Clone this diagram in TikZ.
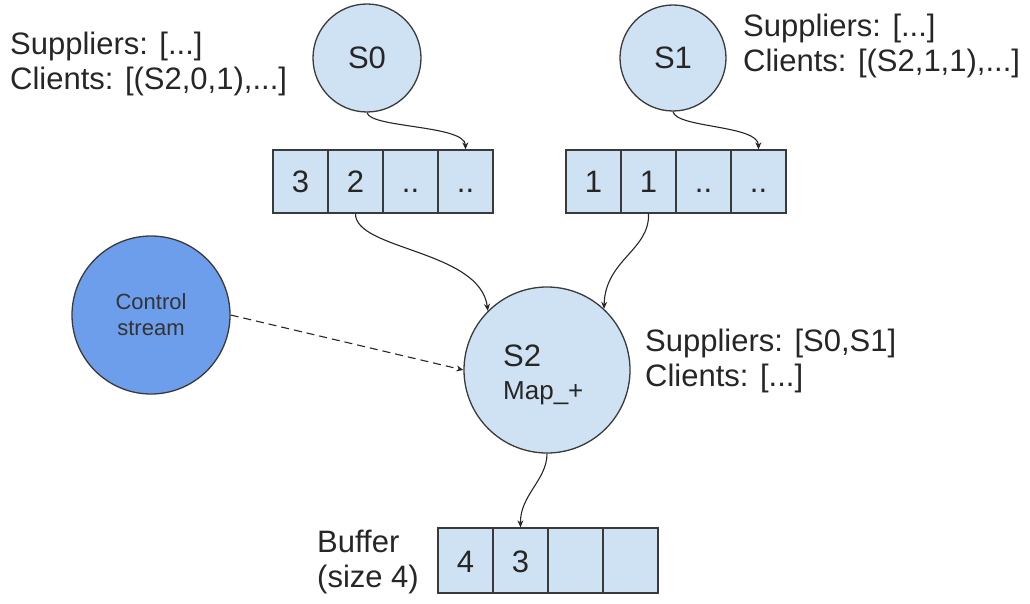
\documentclass[tikz,border=0pt]{standalone}
\usepackage{fontspec}
\setmainfont{Liberation Sans}
\usetikzlibrary{arrows.meta}
\definecolor{lightblue}{HTML}{CFE2F3}
\definecolor{ctrlblue}{HTML}{6D9EEB}
\definecolor{edge}{HTML}{3A3A3A}
\begin{document}
\begin{tikzpicture}[x=1pt,y=-1pt,
  bigfont/.style={font=\fontsize{31}{35}\selectfont},
  stream/.style={circle,draw=edge,line width=1.3pt,fill=lightblue,inner sep=0pt,bigfont,text=black!85},
  cell/.style={rectangle,draw=edge,line width=1.3pt,fill=lightblue,minimum width=55pt,minimum height=63pt,inner sep=0pt,text height=23pt,text depth=0pt,bigfont,text=black!85},
  label/.style={align=left,inner sep=0pt,anchor=west,bigfont,text=black!85},
  conn/.style={draw=black!85,line width=1.1pt,-{Stealth[length=7pt,width=6pt]}},
  dashconn/.style={conn,dash pattern=on 8pt off 5pt}
]
\useasboundingbox (0,0) rectangle (1030,604);

% source streams
\node[stream,minimum size=108pt] (s0) at (367,58) {S0};
\node[stream,minimum size=106pt] (s1) at (673,58) {S1};

% labels
\node[label] (l0) at (10,64) {Suppliers: [...]\\Clients: [(S2,0,1),...]};
\node[label] (l1) at (743,46) {Suppliers: [...]\\Clients: [(S2,1,1),...]};
\node[label] (l2) at (645,361) {Suppliers: [S0,S1]\\Clients: [...]};
\node[label] (lb) at (317,562) {Buffer\\(size 4)};

% left buffer
\node[cell] (b0a) at (300.5,181.5) {3};
\node[cell] (b0b) at (355.5,181.5) {2};
\node[cell] (b0c) at (410.5,181.5) {..};
\node[cell] (b0d) at (465.5,181.5) {..};

% right buffer
\node[cell] (b1a) at (593.5,181.5) {1};
\node[cell] (b1b) at (648.5,181.5) {1};
\node[cell] (b1c) at (703.5,181.5) {..};
\node[cell] (b1d) at (758.5,181.5) {..};

% control stream
\node[circle,draw=edge,line width=1.3pt,fill=ctrlblue,minimum size=158pt,inner sep=0pt,align=center,
      font=\fontsize{22}{26}\selectfont,text=black!80] (cs) at (151,315) {Control\\stream};

% S2
\node[stream,minimum size=166pt] (s2) at (547,370) {};
\node[align=left,inner sep=0pt,anchor=west,text=black!85,font=\fontsize{26}{33}\selectfont] (s2t) at (503,375)
  {{\fontsize{31}{33}\selectfont S2}\\Map\_+};

% bottom buffer
\node[cell,minimum height=65pt] (bca) at (465.5,560.5) {4};
\node[cell,minimum height=65pt] (bcb) at (520.5,560.5) {3};
\node[cell,minimum height=65pt] (bcc) at (575.5,560.5) {};
\node[cell,minimum height=65pt] (bcd) at (630.5,560.5) {};

% connectors
\draw[conn] (s0.south) .. controls (370,128) and (465,125) .. (b0d.north);
\draw[conn] (s1.south) .. controls (676,128) and (758,125) .. (b1d.north);
\draw[conn] (b0b.south) .. controls (355,250) and (480,250) .. (s2.135);
\draw[conn] (b1b.south) .. controls (650,250) and (605,260) .. (s2.47);
\draw[dashconn] (cs.east) -- (s2.west);
\draw[conn] (s2.south) .. controls (547,480) and (520,495) .. (bcb.north);
\end{tikzpicture}
\end{document}
